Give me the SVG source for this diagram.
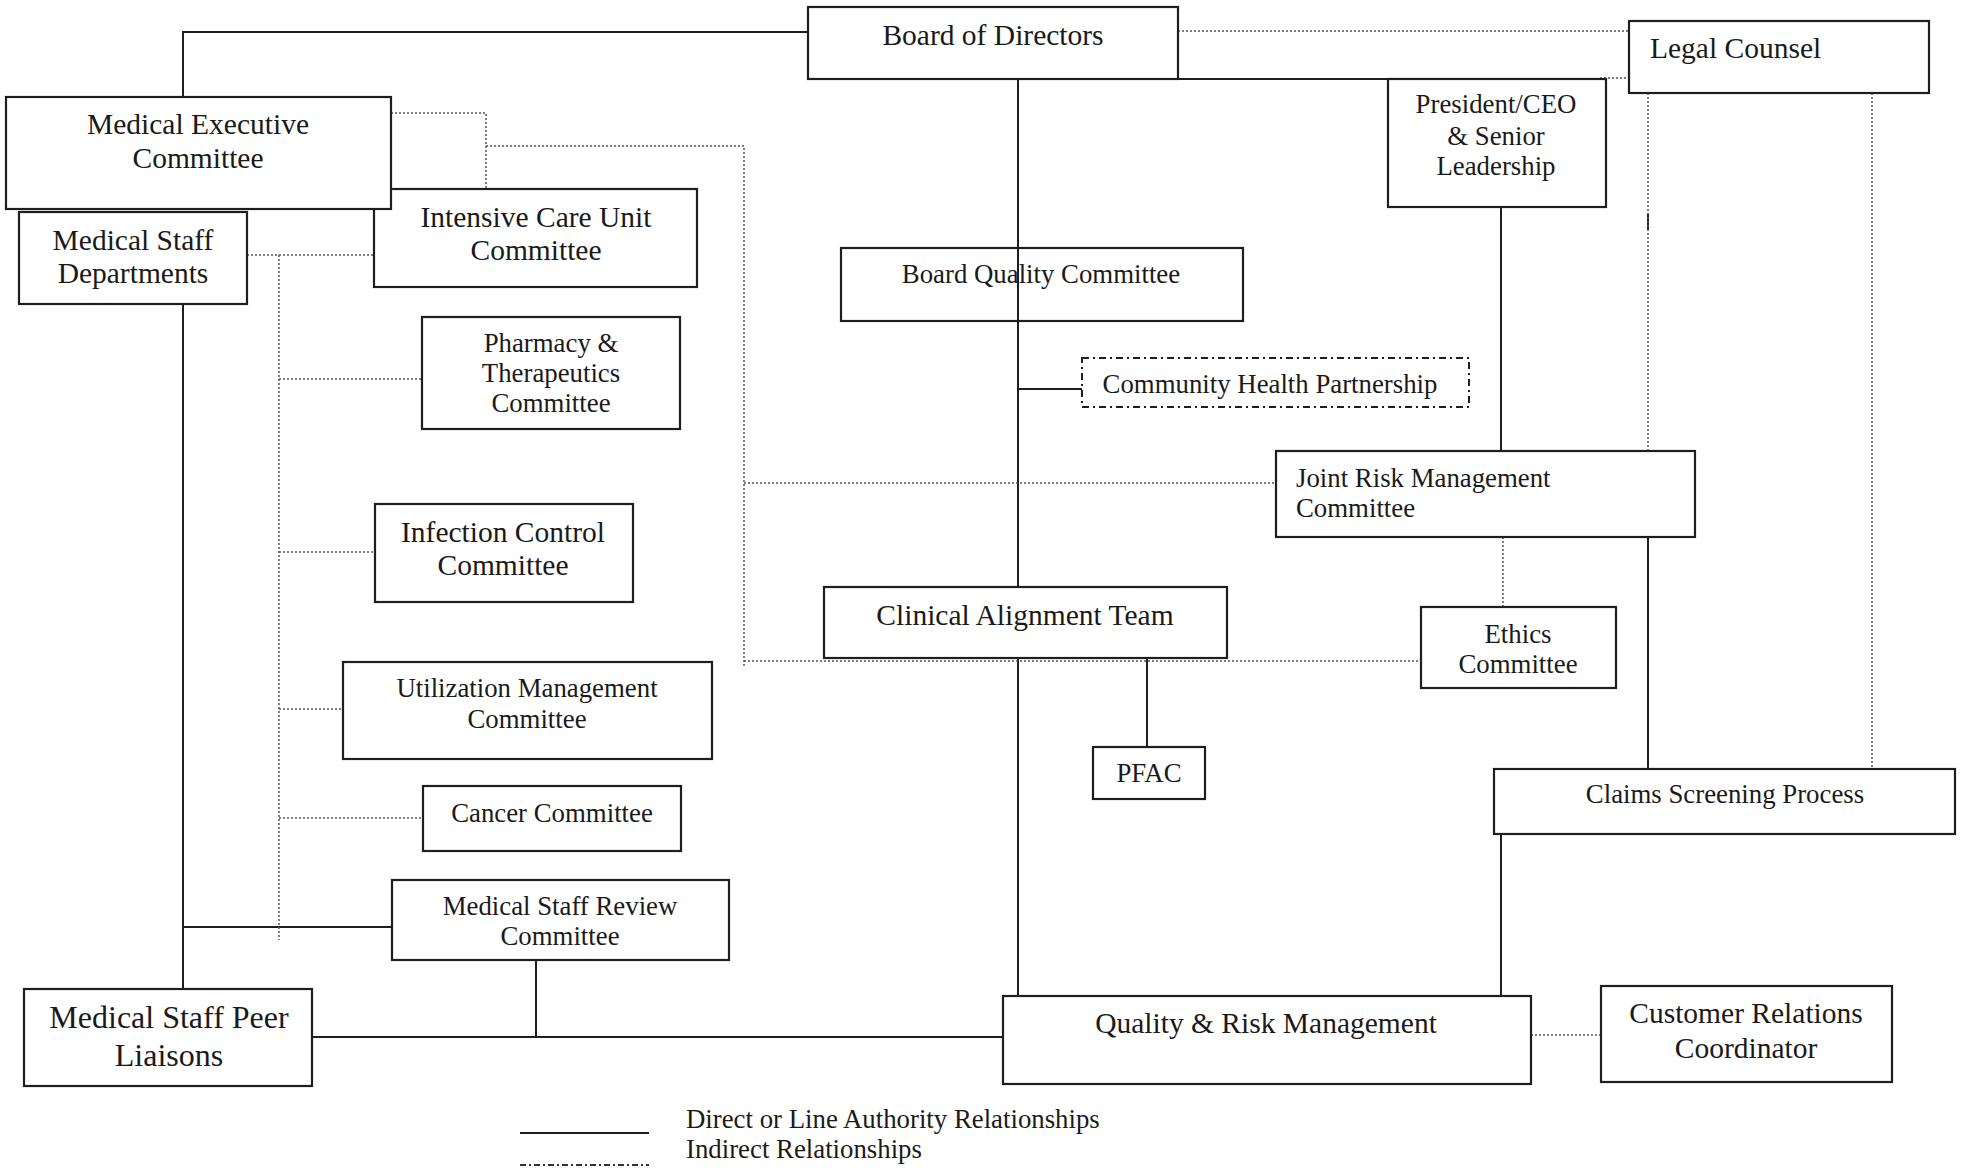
<svg xmlns="http://www.w3.org/2000/svg" width="1963" height="1168" viewBox="0 0 1963 1168">
<style>
.bg{fill:#ffffff}
.box{fill:#ffffff;stroke:#1e1e1e;stroke-width:2.2}
.open{fill:none;stroke:#1e1e1e;stroke-width:2.2}
.dd{fill:#ffffff;stroke:#1e1e1e;stroke-width:2;stroke-dasharray:7,4,2,4}
.s{fill:none;stroke:#1e1e1e;stroke-width:2}
.d{fill:none;stroke:#555;stroke-width:1.5;stroke-dasharray:2,2}
.dl{fill:none;stroke:#333;stroke-width:2;stroke-dasharray:6,3,2,3}
text{font-family:"Liberation Serif","Times New Roman",serif;fill:#1a1a1a}
.L{font-size:29.5px;text-anchor:middle}
.M{font-size:26.8px;text-anchor:middle}
.Ls{font-size:29.5px}
.Ms{font-size:26.8px}
.XL{font-size:32px;text-anchor:middle}
</style>
<rect class="bg" x="0" y="0" width="1963" height="1168"/>
<g id="connectors">
<path class="s" d="M183,97 V32 H808"/>
<path class="s" d="M1178,79 H1600"/>
<path class="s" d="M1018,79 V587"/>
<path class="s" d="M1018,389 H1082"/>
<path class="s" d="M1018,658 V996"/>
<path class="s" d="M1147,658 V747"/>
<path class="s" d="M1501,207 V451"/>
<path class="s" d="M1648,530 V769"/>
<path class="s" d="M1648,213 V230"/>
<path class="s" d="M1501,834 V996"/>
<path class="s" d="M183,304 V989"/>
<path class="s" d="M183,927 H392"/>
<path class="s" d="M536,960 V1037"/>
<path class="s" d="M312,1037 H1003"/>
<path class="d" d="M391,113 H486 V189"/>
<path class="d" d="M486,146 H744 V668"/>
<path class="d" d="M744,483 H1276"/>
<path class="d" d="M744,661 H1421"/>
<path class="d" d="M247,255 H374"/>
<path class="d" d="M279,255 V940"/>
<path class="d" d="M279,379 H422"/>
<path class="d" d="M279,552 H375"/>
<path class="d" d="M279,709 H343"/>
<path class="d" d="M279,818 H423"/>
<path class="d" d="M1178,31 H1629"/>
<path class="d" d="M1600,78 H1629"/>
<path class="d" d="M1648,93 V451"/>
<path class="d" d="M1872,93 V769"/>
<path class="d" d="M1503,537 V607"/>
<path class="d" d="M1531,1035 H1601"/>
</g>
<g id="bod"><rect class="box" x="808" y="7" width="370" height="72"/><text class="L" x="993" y="45">Board of Directors</text></g>
<g id="legal"><rect class="box" x="1629" y="21" width="300" height="72"/><text class="Ls" x="1650" y="58">Legal Counsel</text></g>
<g id="icu"><rect class="box" x="374" y="189" width="323" height="98"/><text class="L" x="536" y="227">Intensive Care Unit</text><text class="L" x="536" y="260">Committee</text></g>
<g id="mec"><rect class="box" x="6" y="97" width="385" height="112"/><text class="L" x="198" y="134">Medical Executive</text><text class="L" x="198" y="168">Committee</text></g>
<g id="msd"><rect class="box" x="19" y="212" width="228" height="92"/><text class="L" x="133" y="250">Medical Staff</text><text class="L" x="133" y="283">Departments</text></g>
<g id="president"><rect class="box" x="1388" y="79" width="218" height="128"/><text class="M" x="1496" y="113">President/CEO</text><text class="M" x="1496" y="145">&amp; Senior</text><text class="M" x="1496" y="175">Leadership</text></g>
<g id="bqc"><rect class="open" x="841" y="248" width="402" height="73"/><text class="M" x="1041" y="283">Board Quality Committee</text></g>
<g id="chp"><rect class="dd" x="1082" y="358" width="387" height="49"/><text class="M" x="1270" y="393">Community Health Partnership</text></g>
<g id="pharmacy"><rect class="box" x="422" y="317" width="258" height="112"/><text class="M" x="551" y="352">Pharmacy &amp;</text><text class="M" x="551" y="382">Therapeutics</text><text class="M" x="551" y="412">Committee</text></g>
<g id="jrmc"><rect class="box" x="1276" y="451" width="419" height="86"/><text class="Ms" x="1296" y="487">Joint Risk Management</text><text class="Ms" x="1296" y="517">Committee</text></g>
<g id="icc"><rect class="box" x="375" y="504" width="258" height="98"/><text class="L" x="503" y="542">Infection Control</text><text class="L" x="503" y="575">Committee</text></g>
<g id="cat"><rect class="box" x="824" y="587" width="403" height="71"/><text class="L" x="1025" y="625">Clinical Alignment Team</text></g>
<g id="ethics"><rect class="box" x="1421" y="607" width="195" height="81"/><text class="M" x="1518" y="643">Ethics</text><text class="M" x="1518" y="673">Committee</text></g>
<g id="um"><rect class="box" x="343" y="662" width="369" height="97"/><text class="M" x="527" y="697">Utilization Management</text><text class="M" x="527" y="728">Committee</text></g>
<g id="pfac"><rect class="box" x="1093" y="747" width="112" height="52"/><text class="M" x="1149" y="782">PFAC</text></g>
<g id="claims"><rect class="box" x="1494" y="769" width="461" height="65"/><text class="M" x="1725" y="803">Claims Screening Process</text></g>
<g id="cancer"><rect class="box" x="423" y="786" width="258" height="65"/><text class="M" x="552" y="822">Cancer Committee</text></g>
<g id="msrc"><rect class="box" x="392" y="880" width="337" height="80"/><text class="M" x="560" y="915">Medical Staff Review</text><text class="M" x="560" y="945">Committee</text></g>
<g id="peer"><rect class="box" x="24" y="989" width="288" height="97"/><text class="XL" x="169" y="1028">Medical Staff Peer</text><text class="XL" x="169" y="1066">Liaisons</text></g>
<g id="qrm"><rect class="box" x="1003" y="996" width="528" height="88"/><text class="L" x="1266" y="1033">Quality &amp; Risk Management</text></g>
<g id="crc"><rect class="box" x="1601" y="986" width="291" height="96"/><text class="L" x="1746" y="1023">Customer Relations</text><text class="L" x="1746" y="1058">Coordinator</text></g>
<g id="legend">
<path class="s" d="M520,1133 H649"/>
<path class="dl" d="M520,1165 H649"/>
<text class="Ms" x="686" y="1128">Direct or Line Authority Relationships</text>
<text class="Ms" x="686" y="1158">Indirect Relationships</text>
</g>
</svg>
